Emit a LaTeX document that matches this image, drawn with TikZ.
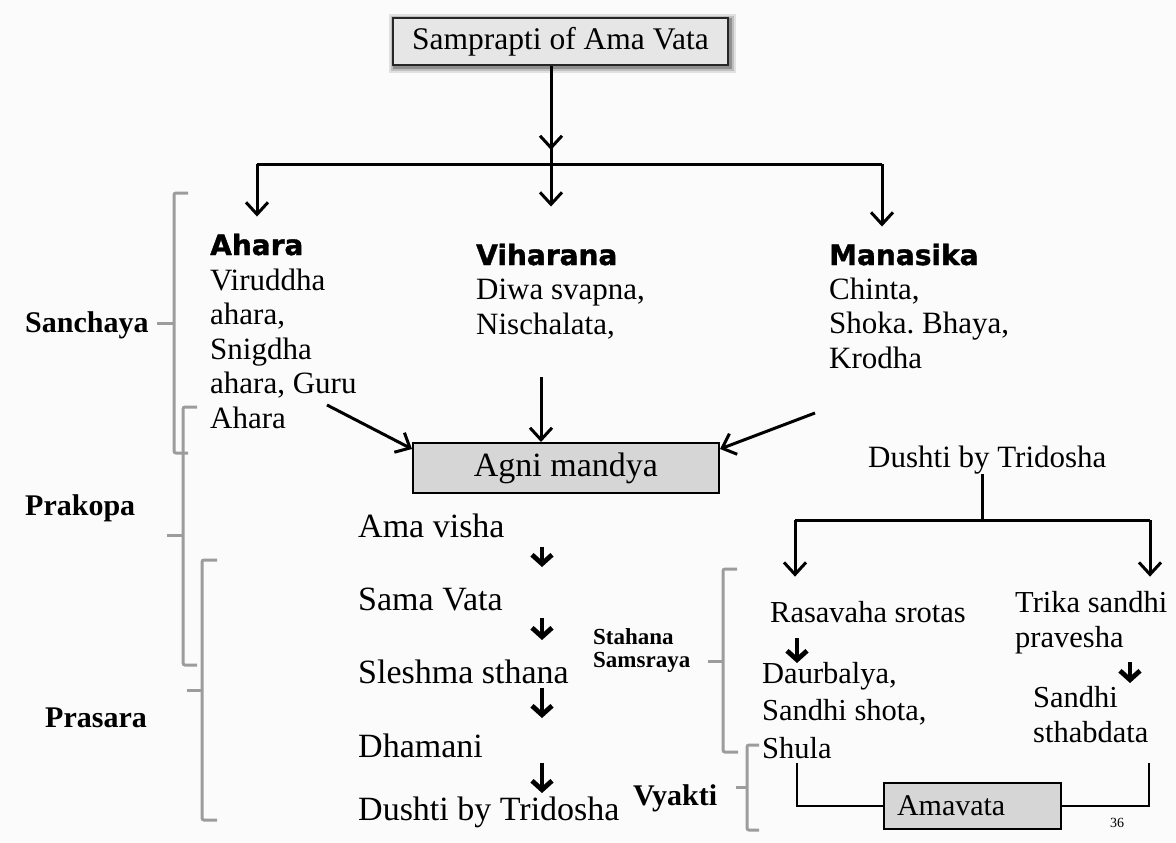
\documentclass[tikz,border=0pt]{standalone}
\usepackage{fontspec}
\setmainfont{Liberation Serif}
\newfontfamily\hdfont[BoldFeatures={FakeBold=1.4}]{DejaVu Sans}
\usetikzlibrary{arrows.meta,calc}
\definecolor{bg}{HTML}{FBFBFB}
\definecolor{brkgray}{HTML}{9C9C9C}
\definecolor{boxfill}{HTML}{D6D6D6}
\definecolor{titlefill}{HTML}{E6E6E6}
\frenchspacing
\tikzset{
  conn/.style={line width=3pt, draw=black},
  arr/.style={conn, -{Straight Barb[length=12pt,width=22pt]}},
  sarr/.style={line width=3.4pt, draw=black, -{Straight Barb[length=9pt,width=20pt,line width=4.8pt]}},
  brk/.style={line width=3pt, draw=brkgray, rounded corners=2pt},
  hd/.style={font=\hdfont\bfseries\fontsize{28}{34}\selectfont, inner sep=0pt, anchor=base west},
  toptxt/.style={font=\fontsize{31}{34.5}\selectfont, inner sep=0pt, anchor=base west, align=left},
  midtxt/.style={font=\fontsize{34}{36}\selectfont, inner sep=0pt, anchor=base west},
  rtxt/.style={font=\fontsize{30.5}{35}\selectfont, inner sep=0pt, anchor=base west, align=left},
  lbl/.style={font=\bfseries\fontsize{30}{34}\selectfont, inner sep=0pt, anchor=base west},
  slbl/.style={font=\bfseries\fontsize{23}{23}\selectfont, inner sep=0pt, anchor=base west, align=left},
  graybox/.style={draw=black, line width=2pt, fill=boxfill, inner sep=0pt},
}
\begin{document}
\begin{tikzpicture}[x=1pt,y=-1pt]
\useasboundingbox (0,0) rectangle (1176,843);
\fill[bg] (0,0) rectangle (1176,843);

% title with soft shadow
\foreach \w/\o in {12/0.10,8/0.15,4/0.25}{
  \draw[line width=\w pt, draw=black, opacity=\o] (395,20) rectangle (730,67);
}
\node[draw=black!85, line width=2.5pt, fill=titlefill, minimum width=335pt, minimum height=47pt,
      inner sep=0pt, font=\fontsize{31.5}{34}\selectfont] (title) at (560.5,41.5) {Samprapti of Ama Vata};

% headings (multi-line nodes are placed by the baseline of their last line)
\node[hd] (ahara) at (210,255) {Ahara};
\node[hd] (vihara) at (476,265) {Viharana};
\node[hd] (manas) at (829,265) {Manasika};

\node[toptxt] (aharatxt) at (210,428) {Viruddha\\ahara,\\Snigdha\\ahara, Guru\\Ahara};
\node[toptxt] (viharatxt) at (476,334) {Diwa svapna,\\Nischalata,};
\node[toptxt] (manastxt) at (829,368) {Chinta,\\Shoka. Bhaya,\\Krodha};

% top connectors
\coordinate (barL) at (257,164);
\coordinate (barM) at (551,164);
\coordinate (barR) at (882,164);
\draw[conn] (title.south -| barM) -- (barM);
\draw[arr] (title.south -| barM) -- (551,150);
\draw[conn] (barL) -- (barR);
\draw[arr, shorten >=17pt] (barL) -- (barL |- ahara.north);
\draw[arr, shorten >=37pt] (barM) -- (barM |- vihara.north);
\draw[arr, shorten >=17pt] (barR) -- (barR |- manas.north);

% agni mandya
\node[graybox, minimum width=306pt, minimum height=50pt, font=\fontsize{34}{36}\selectfont] (agni) at (566,468) {Agni mandya};
\coordinate (fromA) at (327,405);
\coordinate (fromV) at (541,377);
\coordinate (fromM) at (815,413);
\draw[arr] (fromA) -- ($(agni.north west)+(0,7)$);
\draw[arr] (fromV) -- (fromV |- agni.north);
\draw[arr] (fromM) -- ($(agni.north east)+(0,7)$);

% middle column
\node[midtxt] (amavisha) at (358,537) {Ama visha};
\node[midtxt] (samavata) at (358,610) {Sama Vata};
\node[midtxt] (sleshma) at (358,683) {Sleshma sthana};
\node[midtxt] (dhamani) at (358,757) {Dhamani};
\node[midtxt] (dushti) at (358,820) {Dushti by Tridosha};
\coordinate (colx) at (542,0);
\draw[sarr, shorten <=10pt, shorten >=43pt] (amavisha.base -| colx) -- (samavata.base -| colx);
\draw[sarr, shorten <=8pt, shorten >=43pt] (samavata.base -| colx) -- (sleshma.base -| colx);
\draw[sarr, shorten <=5pt, shorten >=39pt] (sleshma.base -| colx) -- (dhamani.base -| colx);
\draw[sarr, shorten <=6pt, shorten >=27pt] (dhamani.base -| colx) -- (dushti.base -| colx);

% right section
\node[rtxt, font=\fontsize{31}{35}\selectfont] (dushtiR) at (868,467) {Dushti by Tridosha};
\coordinate (split) at (982,520);
\coordinate (bL) at (795,520);
\coordinate (bR) at (1150,520);
\draw[conn] (dushtiR.south -| split) -- (split);
\draw[conn] (bL) -- (bR);
\node[rtxt] (rasa) at (770,622) {Rasavaha srotas};
\node[rtxt, font=\fontsize{30.5}{37.5}\selectfont] (daur) at (762,758) {Daurbalya,\\Sandhi shota,\\Shula};
\node[rtxt] (trika) at (1015,647) {Trika sandhi\\pravesha};
\node[rtxt] (sandhi) at (1033,742) {Sandhi\\sthabdata};
\draw[arr, shorten >=24pt] (bL) -- (bL |- rasa.north);
\draw[arr, shorten >=14pt] (bR) -- (bR |- trika.north);
\coordinate (rx) at (797,0);
\coordinate (tx) at (1130,0);
\draw[sarr, shorten <=16pt, shorten >=95pt] (rasa.base -| rx) -- (daur.base -| rx);
\draw[sarr, shorten <=15pt, shorten >=59pt] (trika.base -| tx) -- (sandhi.base -| tx);

% amavata
\node[graybox, minimum width=177pt, minimum height=46pt, text width=151pt, inner xsep=13pt,
      align=left, font=\fontsize{30}{34}\selectfont] (amavata) at (972.5,806) {Amavata};
\coordinate (sh) at (797,763);
\coordinate (sb) at (1149,763);
\draw[conn, line width=2.5pt] (sh) |- (amavata.west);
\draw[conn, line width=2.5pt] (sb) |- (amavata.east);
\node[font=\fontsize{14}{14}\selectfont, inner sep=0pt, anchor=base west] (pg) at (1110,827) {36};

% left brackets
\node[lbl] (sanc) at (25,332) {Sanchaya};
\node[lbl] (prak) at (25,515) {Prakopa};
\node[lbl] (pras) at (45,727) {Prasara};
\draw[brk] (188,193) -- (174,193) -- (174,453) -- (188,453);
\draw[brk] (174,323) -- (157,323);
\draw[brk] (197,407) -- (183,407) -- (183,665) -- (197,665);
\draw[brk] (183,535) -- (167,535);
\draw[brk] (217,560) -- (202,560) -- (202,820) -- (217,820);
\draw[brk] (202,690) -- (187,690);

% right brackets
\node[slbl] (stah) at (593,667) {Stahana\\Samsraya};
\node[lbl] (vyak) at (633,805) {Vyakti};
\draw[brk] (737,569) -- (723,569) -- (723,752) -- (738,752);
\draw[brk] (723,661) -- (708,661);
\draw[brk] (759,745) -- (747,745) -- (747,830) -- (759,830);
\draw[brk] (747,787) -- (736,787);
\end{tikzpicture}
\end{document}
